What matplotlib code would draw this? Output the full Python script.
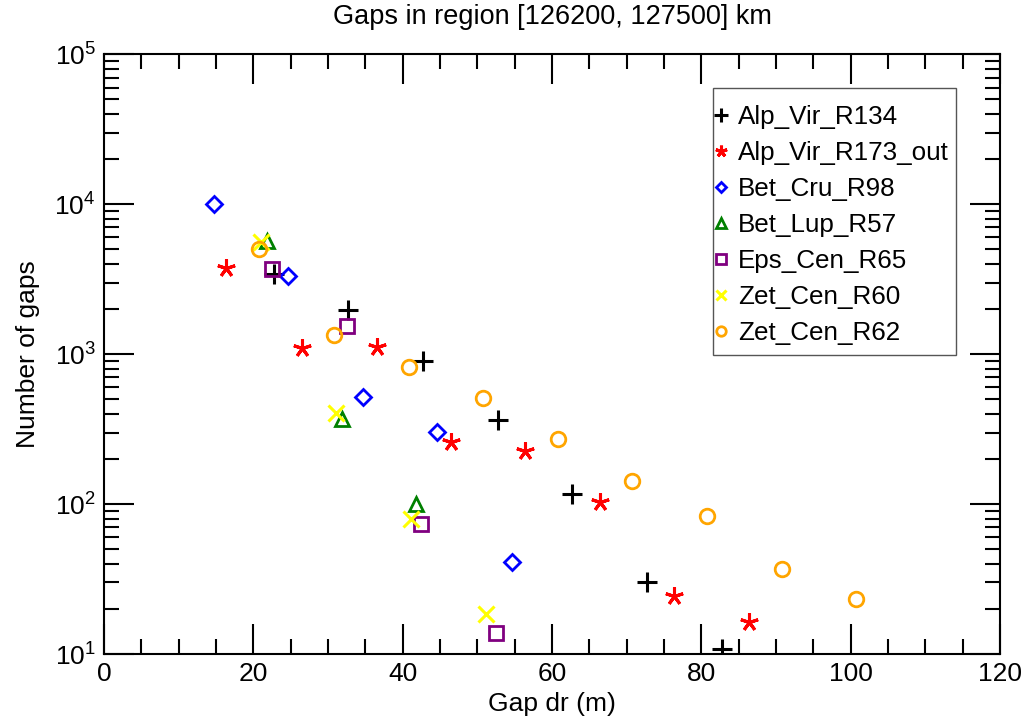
import matplotlib
matplotlib.use("Agg")
import matplotlib.pyplot as plt
from matplotlib.patches import Rectangle
from matplotlib.ticker import MultipleLocator, LogLocator, NullFormatter

plt.rcParams["font.family"] = ["Liberation Sans", "DejaVu Sans"]
plt.rcParams["mathtext.fontset"] = "custom"
plt.rcParams["mathtext.rm"] = "Liberation Sans"
plt.rcParams["mathtext.it"] = "Liberation Sans:italic"

# gap width (m) and number of gaps per occultation
alp_vir_r134_dr = [22.7, 32.7, 42.7, 52.7, 62.7, 72.7, 82.7]
alp_vir_r134_n = [3440, 1960, 898, 361, 117, 30.3, 10.8]

alp_vir_r173_dr = [16.4, 26.5, 36.5, 46.5, 56.4, 66.4, 76.4, 86.4]
alp_vir_r173_n = [3750, 1100, 1110, 261, 227, 103, 24.2, 16.4]

bet_cru_r98_dr = [14.7, 24.7, 34.7, 44.6, 54.7]
bet_cru_r98_n = [10100, 3340, 516, 301, 41.2]

bet_lup_r57_dr = [21.8, 31.9, 41.8]
bet_lup_r57_n = [5700, 370, 100]

eps_cen_r65_dr = [22.5, 32.5, 42.5, 52.5]
eps_cen_r65_n = [3720, 1540, 74, 13.8]

zet_cen_r60_dr = [21.0, 31.1, 41.1, 51.1]
zet_cen_r60_n = [5600, 406, 80, 18.5]

zet_cen_r62_dr = [20.8, 30.8, 40.8, 50.8, 60.8, 70.75, 80.75, 90.75, 100.75]
zet_cen_r62_n = [5030, 1340, 824, 512, 272, 143, 83, 37, 23.3]

series = [
    ("Alp_Vir_R134", alp_vir_r134_dr, alp_vir_r134_n, "+", "black", 15, True),
    ("Alp_Vir_R173_out", alp_vir_r173_dr, alp_vir_r173_n, (5, 2, 0), "red", 13, True),
    ("Bet_Cru_R98", bet_cru_r98_dr, bet_cru_r98_n, "D", "blue", 8.5, False),
    ("Bet_Lup_R57", bet_lup_r57_dr, bet_lup_r57_n, "^", "green", 10, False),
    ("Eps_Cen_R65", eps_cen_r65_dr, eps_cen_r65_n, "s", "purple", 10, False),
    ("Zet_Cen_R60", zet_cen_r60_dr, zet_cen_r60_n, "x", "yellow", 11, True),
    ("Zet_Cen_R62", zet_cen_r62_dr, zet_cen_r62_n, "o", "orange", 10.5, False),
]

fig = plt.figure(figsize=(10.28, 7.21), dpi=100)
ax = fig.add_axes([0.1012, 0.0929, 0.8716, 0.8318])

for label, dr, n, marker, color, ms, line_marker in series:
    if line_marker:
        ax.plot(dr, n, linestyle="none", marker=marker, color=color,
                markersize=ms, markeredgewidth=2.2, label=label)
    else:
        ax.plot(dr, n, linestyle="none", marker=marker, markerfacecolor="none",
                markeredgecolor=color, markersize=ms, markeredgewidth=2.0,
                label=label)

ax.set_yscale("log")
ax.set_xlim(0, 120)
ax.set_ylim(10, 1e5)
ax.xaxis.set_major_locator(MultipleLocator(20))
ax.xaxis.set_minor_locator(MultipleLocator(5))
ax.yaxis.set_major_locator(LogLocator(base=10, numticks=10))
ax.yaxis.set_minor_locator(LogLocator(base=10, subs=range(2, 10), numticks=20))
ax.yaxis.set_minor_formatter(NullFormatter())

ax.tick_params(which="both", direction="in", top=True, right=True,
               width=1.5, labelsize=19)
ax.tick_params(which="major", length=21.5, pad=6)
ax.tick_params(which="minor", length=11)
for spine in ax.spines.values():
    spine.set_linewidth(1.5)

ax.set_xlabel("Gap dr (m)", fontsize=19, labelpad=4)
ax.set_ylabel("Number of gaps", fontsize=19, labelpad=10)
ax.set_title("Gaps in region [126200, 127500] km", fontsize=19.5, pad=22)

# legend entries without their own frame; the box is drawn separately so the
# padding can be tight at the sides and loose at top and bottom
leg = ax.legend(loc="upper left", bbox_to_anchor=(0.6813, 0.915),
                borderaxespad=0, fontsize=18.7, markerscale=0.65,
                handlelength=0.5, handletextpad=0.4, labelspacing=0.46,
                borderpad=0, frameon=False, numpoints=1)
ax.add_patch(Rectangle((0.6797, 0.4983), 0.2712, 0.445, transform=ax.transAxes,
                       fill=False, edgecolor="#555555", linewidth=1.0, zorder=5))

fig.savefig("out.png", dpi=100)
